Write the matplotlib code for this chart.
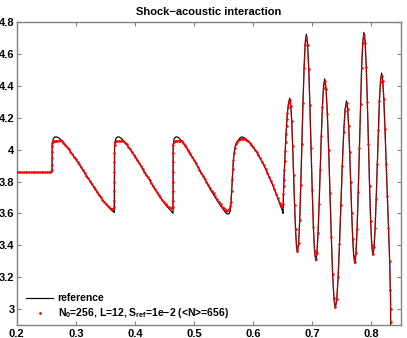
import matplotlib
matplotlib.use("Agg")
import matplotlib.pyplot as plt
from matplotlib.lines import Line2D

plt.rcParams['font.family'] = ['Liberation Sans', 'DejaVu Sans']
plt.rcParams['font.weight'] = 'bold'
plt.rcParams['mathtext.fontset'] = 'custom'
plt.rcParams['mathtext.rm'] = 'Liberation Sans:bold'
plt.rcParams['mathtext.it'] = 'Liberation Sans:bold'
plt.rcParams['mathtext.bf'] = 'Liberation Sans:bold'
plt.rcParams['mathtext.default'] = 'rm'

# ---------------- data: reference (black line) ----------------
ref_flat_x = [0.200, 0.2598]
ref_flat_y = [3.857, 3.857]

ref_w1_x = [0.2599, 0.2601, 0.2620, 0.2650, 0.2680, 0.2720, 0.2760, 0.2810, 0.2870, 0.2930, 0.2990,
            0.3050, 0.3110, 0.3170, 0.3230, 0.3290, 0.3350, 0.3410, 0.3470, 0.3530, 0.3580, 0.3620, 0.3654]
ref_w1_y = [3.900, 4.030, 4.070, 4.080, 4.080, 4.072, 4.058, 4.036, 4.008, 3.978, 3.946,
            3.913, 3.878, 3.843, 3.808, 3.773, 3.740, 3.707, 3.677, 3.650, 3.630, 3.615, 3.605]

ref_w2_x = [0.3656, 0.3676, 0.3706, 0.3735, 0.3765, 0.3805, 0.3854, 0.3908, 0.3963, 0.4022, 0.4077,
            0.4131, 0.4191, 0.4250, 0.4304, 0.4359, 0.4418, 0.4473, 0.4527, 0.4577, 0.4616, 0.4645]
ref_w2_y = [4.030, 4.070, 4.080, 4.080, 4.072, 4.058, 4.036, 4.008, 3.978, 3.946, 3.913,
            3.878, 3.843, 3.808, 3.773, 3.740, 3.707, 3.677, 3.650, 3.630, 3.613, 3.600]

ref_w3_x = [0.4647, 0.4665, 0.4693, 0.4720, 0.4747, 0.4784, 0.4829, 0.4879, 0.4929, 0.4984, 0.5034,
            0.5084, 0.5138, 0.5193, 0.5243, 0.5293, 0.5348, 0.5398, 0.5448, 0.5493, 0.5530, 0.5557]
ref_w3_y = [4.030, 4.070, 4.080, 4.080, 4.072, 4.058, 4.036, 4.008, 3.978, 3.946, 3.913,
            3.878, 3.843, 3.808, 3.773, 3.740, 3.707, 3.677, 3.650, 3.627, 3.607, 3.598]

ref_w4_x = [0.5575, 0.5595, 0.5612, 0.5625, 0.5634, 0.5645, 0.5655, 0.5665, 0.5678, 0.5692, 0.5715,
            0.5745, 0.5775, 0.5802, 0.5840, 0.5887, 0.5940, 0.6000, 0.6055, 0.6112, 0.6170, 0.6225,
            0.6280, 0.6337, 0.6380, 0.6421, 0.6460, 0.6490]
ref_w4_y = [3.596, 3.598, 3.615, 3.660, 3.720, 3.800, 3.870, 3.925, 3.975, 4.012, 4.040,
            4.059, 4.072, 4.080, 4.077, 4.065, 4.045, 4.018, 3.988, 3.951, 3.910, 3.868,
            3.822, 3.774, 3.733, 3.690, 3.650, 3.622]

ref_h1_x = [0.6506, 0.6512, 0.6520, 0.6535, 0.6551, 0.6565, 0.6580, 0.6600]
ref_h1_y = [3.600, 3.680, 3.800, 3.930, 4.060, 4.150, 4.230, 4.295]

# high-frequency oscillation region (shared x positions)
hf_x = [0.6620, 0.6636, 0.6653, 0.6669, 0.6685, 0.6701, 0.6718, 0.6734,
        0.6750, 0.6769, 0.6788, 0.6806, 0.6825, 0.6844, 0.6863, 0.6881,
        0.6900, 0.6920, 0.6940, 0.6960, 0.6980, 0.7000, 0.7020, 0.7040,
        0.7060, 0.7079, 0.7098, 0.7116, 0.7135, 0.7154, 0.7173, 0.7191,
        0.7210, 0.7233, 0.7255, 0.7278, 0.7300, 0.7323, 0.7345, 0.7368,
        0.7390, 0.7414, 0.7438, 0.7461, 0.7485, 0.7509, 0.7533, 0.7556,
        0.7580, 0.7598, 0.7615, 0.7633, 0.7650, 0.7668, 0.7685, 0.7703,
        0.7720, 0.7739, 0.7759, 0.7778, 0.7798, 0.7817, 0.7836, 0.7856,
        0.7875, 0.7894, 0.7913, 0.7932, 0.7951, 0.7970, 0.7989, 0.8008,
        0.8027, 0.8045, 0.8064, 0.8082, 0.8101, 0.8119, 0.8137, 0.8156]
hf_ref_y = [4.324, 4.287, 4.182, 4.025, 3.839, 3.653, 3.496, 3.391,
            3.354, 3.406, 3.555, 3.777, 4.040, 4.302, 4.524, 4.673,
            4.725, 4.671, 4.517, 4.286, 4.014, 3.741, 3.510, 3.356,
            3.302, 3.346, 3.469, 3.655, 3.874, 4.092, 4.278, 4.401,
            4.445, 4.390, 4.234, 3.999, 3.725, 3.449, 3.215, 3.059,
            3.004, 3.054, 3.195, 3.406, 3.655, 3.904, 4.115, 4.256,
            4.306, 4.267, 4.157, 3.991, 3.796, 3.601, 3.435, 3.325,
            3.286, 3.341, 3.498, 3.734, 4.012, 4.289, 4.525, 4.682,
            4.737, 4.684, 4.532, 4.305, 4.038, 3.770, 3.543, 3.391,
            3.338, 3.382, 3.505, 3.691, 3.910, 4.128, 4.314, 4.437]

ref_h12_x = [0.8174, 0.8192, 0.8210, 0.8230, 0.8250, 0.8270, 0.8290, 0.8310, 0.8322, 0.8326, 0.8328, 0.8500]
ref_h12_y = [4.481, 4.440, 4.330, 4.140, 3.920, 3.720, 3.520, 3.300, 3.130, 3.050, 1.200, 1.100]

# ---------------- data: adaptive solution (red dots) ----------------
sim_flat_x = [0.200, 0.203, 0.206, 0.209, 0.212, 0.215, 0.218, 0.221, 0.224, 0.227,
              0.230, 0.233, 0.236, 0.239, 0.242, 0.245, 0.248, 0.251, 0.254, 0.257]
sim_flat_y = [3.857, 3.857, 3.857, 3.857, 3.857, 3.857, 3.857, 3.857, 3.857, 3.857,
              3.857, 3.857, 3.857, 3.857, 3.857, 3.857, 3.857, 3.857, 3.857, 3.857]

sim_w1_x = [0.2596, 0.2597, 0.2598, 0.2599, 0.2600, 0.2601,
            0.2610, 0.2630, 0.2650, 0.2670, 0.2690, 0.2710, 0.2730, 0.2760, 0.2790, 0.2820,
            0.2850, 0.2880, 0.2910, 0.2940, 0.2970, 0.3000, 0.3030, 0.3060, 0.3090, 0.3120,
            0.3150, 0.3180, 0.3210, 0.3240, 0.3270, 0.3300, 0.3330, 0.3360, 0.3390, 0.3420,
            0.3450, 0.3480, 0.3510, 0.3540, 0.3570, 0.3600, 0.3620, 0.3635, 0.3645]
sim_w1_y = [3.870, 3.905, 3.945, 3.985, 4.020, 4.040,
            4.048, 4.052, 4.055, 4.056, 4.056, 4.056, 4.058, 4.055, 4.045, 4.031,
            4.017, 4.003, 3.988, 3.973, 3.957, 3.941, 3.924, 3.907, 3.890, 3.872,
            3.855, 3.837, 3.820, 3.802, 3.785, 3.767, 3.751, 3.734, 3.718, 3.702,
            3.687, 3.672, 3.659, 3.647, 3.637, 3.630, 3.626, 3.628, 3.640]

sim_w2_x = [0.3648, 0.3649, 0.3650, 0.3651, 0.3652, 0.3653, 0.3655,
            0.3665, 0.3685, 0.3705, 0.3725, 0.3745, 0.3770, 0.3800, 0.3830, 0.3860, 0.3890,
            0.3920, 0.3950, 0.3980, 0.4010, 0.4040, 0.4070, 0.4100, 0.4130, 0.4160, 0.4190,
            0.4220, 0.4250, 0.4280, 0.4310, 0.4340, 0.4370, 0.4400, 0.4430, 0.4460, 0.4490,
            0.4520, 0.4550, 0.4580, 0.4605, 0.4625, 0.4638]
sim_w2_y = [3.680, 3.740, 3.800, 3.860, 3.920, 3.980, 4.030,
            4.048, 4.052, 4.054, 4.055, 4.056, 4.056, 4.055, 4.045, 4.033, 4.018,
            4.002, 3.985, 3.968, 3.952, 3.935, 3.917, 3.899, 3.879, 3.862, 3.844,
            3.826, 3.808, 3.789, 3.770, 3.751, 3.734, 3.717, 3.701, 3.684, 3.669,
            3.656, 3.645, 3.638, 3.633, 3.632, 3.640]

sim_w3_x = [0.4640, 0.4641, 0.4642, 0.4643, 0.4644, 0.4645, 0.4647,
            0.4660, 0.4680, 0.4700, 0.4720, 0.4740, 0.4765, 0.4790, 0.4815, 0.4840, 0.4865,
            0.4890, 0.4915, 0.4940, 0.4970, 0.5000, 0.5030, 0.5060, 0.5090, 0.5120, 0.5150,
            0.5180, 0.5210, 0.5240, 0.5270, 0.5300, 0.5330, 0.5360, 0.5390, 0.5420, 0.5450,
            0.5480, 0.5505, 0.5525, 0.5545, 0.5565, 0.5585, 0.5600, 0.5612]
sim_w3_y = [3.680, 3.740, 3.800, 3.860, 3.920, 3.980, 4.030,
            4.050, 4.053, 4.055, 4.056, 4.056, 4.056, 4.054, 4.043, 4.030, 4.015,
            4.000, 3.985, 3.970, 3.951, 3.933, 3.914, 3.894, 3.875, 3.856, 3.837,
            3.818, 3.799, 3.780, 3.761, 3.743, 3.725, 3.707, 3.690, 3.673, 3.657,
            3.643, 3.632, 3.624, 3.620, 3.618, 3.620, 3.628, 3.645]

sim_w4_x = [0.5625, 0.5635, 0.5645, 0.5655, 0.5665, 0.5678, 0.5692, 0.5710, 0.5730, 0.5755,
            0.5780, 0.5805, 0.5830, 0.5855, 0.5880, 0.5910, 0.5940, 0.5970, 0.6000, 0.6030,
            0.6060, 0.6090, 0.6120, 0.6150, 0.6180, 0.6210, 0.6240, 0.6270, 0.6300, 0.6330,
            0.6360, 0.6390, 0.6420, 0.6450, 0.6475, 0.6495, 0.6505]
sim_w4_y = [3.670, 3.740, 3.815, 3.880, 3.935, 3.980, 4.012, 4.036, 4.050, 4.060,
            4.066, 4.068, 4.068, 4.066, 4.061, 4.053, 4.042, 4.030, 4.015, 4.000,
            3.984, 3.966, 3.946, 3.925, 3.903, 3.880, 3.856, 3.830, 3.805, 3.780,
            3.752, 3.723, 3.694, 3.668, 3.650, 3.642, 3.660]

sim_h1_x = [0.6510, 0.6515, 0.6520, 0.6528, 0.6535, 0.6543, 0.6551, 0.6558, 0.6565, 0.6572,
            0.6580, 0.6590, 0.6600, 0.6610]
sim_h1_y = [3.720, 3.770, 3.810, 3.870, 3.930, 3.990, 4.050, 4.100, 4.150, 4.190,
            4.230, 4.270, 4.295, 4.308]

hf_sim_y = [4.310, 4.277, 4.177, 4.023, 3.839, 3.655, 3.500, 3.398,
            3.362, 3.412, 3.558, 3.777, 4.035, 4.292, 4.510, 4.655,
            4.705, 4.655, 4.507, 4.280, 4.012, 3.744, 3.516, 3.365,
            3.312, 3.354, 3.474, 3.657, 3.873, 4.088, 4.270, 4.390,
            4.430, 4.378, 4.226, 3.995, 3.725, 3.454, 3.222, 3.068,
            3.014, 3.062, 3.200, 3.408, 3.655, 3.900, 4.108, 4.245,
            4.292, 4.255, 4.150, 3.988, 3.796, 3.605, 3.442, 3.333,
            3.295, 3.348, 3.502, 3.735, 4.010, 4.284, 4.515, 4.668,
            4.720, 4.670, 4.522, 4.300, 4.037, 3.775, 3.550, 3.400,
            3.346, 3.388, 3.509, 3.692, 3.908, 4.123, 4.305, 4.425]

sim_h12_x = [0.8174, 0.8192, 0.8210, 0.8230, 0.8250, 0.8270, 0.8290, 0.8310, 0.8322, 0.8326, 0.8327]
sim_h12_y = [4.465, 4.430, 4.320, 4.130, 3.910, 3.710, 3.510, 3.300, 3.120, 3.000, 2.920]

x_ticks = [0.2, 0.3, 0.4, 0.5, 0.6, 0.7, 0.8]
y_ticks = [3.0, 3.2, 3.4, 3.6, 3.8, 4.0, 4.2, 4.4, 4.6, 4.8]
y_tick_labels = ['3', '3.2', '3.4', '3.6', '3.8', '4', '4.2', '4.4', '4.6', '4.8']
title_text = 'Shock\u2212acoustic interaction'
ref_label = 'reference'
sim_label = r'N$_0$=256, L=12, S$_{ref}$=1e$-$2 (<N>=656)'

ref_x = ref_flat_x + ref_w1_x + ref_w2_x + ref_w3_x + ref_w4_x + ref_h1_x + hf_x + ref_h12_x
ref_y = ref_flat_y + ref_w1_y + ref_w2_y + ref_w3_y + ref_w4_y + ref_h1_y + hf_ref_y + ref_h12_y
sim_x = sim_flat_x + sim_w1_x + sim_w2_x + sim_w3_x + sim_w4_x + sim_h1_x + hf_x + sim_h12_x
sim_y = sim_flat_y + sim_w1_y + sim_w2_y + sim_w3_y + sim_w4_y + sim_h1_y + hf_sim_y + sim_h12_y

# ---------------- figure ----------------
fig = plt.figure(figsize=(4.07, 3.38), dpi=100)
ax = fig.add_axes([0.041, 0.039, 0.944, 0.895])

ref_line, = ax.plot(ref_x, ref_y, color='black', lw=0.85, zorder=2)
ax.plot(sim_x, sim_y, color='red', lw=1.15, ls=(0, (0.1, 1.5)), dash_capstyle='round', zorder=3)
ax.plot(sim_x, sim_y, color='red', ls='none', marker='.', ms=1.6, zorder=4)

ax.set_xlim(0.2, 0.85)
ax.set_ylim(2.9, 4.8)
ax.set_xticks(x_ticks)
ax.set_xticklabels([f'{v:g}' for v in x_ticks])
ax.set_yticks(y_ticks)
ax.set_yticklabels(y_tick_labels)
ax.tick_params(direction='in', top=True, right=True, length=3, width=0.8,
               color='#808080', labelsize=8, labelcolor='black')
ax.tick_params(axis='y', pad=1.5)
ax.tick_params(axis='x', pad=3)
for s in ax.spines.values():
    s.set_color('#808080')
    s.set_linewidth(1.0)

ax.set_title(title_text, fontsize=8, fontweight='bold', pad=5)

sim_proxy = Line2D([], [], color='red', ls='none', marker='.', ms=2.0)
ax.legend([ref_line, sim_proxy], [ref_label, sim_label], loc='lower left',
          bbox_to_anchor=(0.025, 0.015), frameon=False, fontsize=7.5,
          handlelength=2.6, handletextpad=0.4, borderpad=0, borderaxespad=0,
          labelspacing=0.3)

fig.savefig('out.png', dpi=100)
